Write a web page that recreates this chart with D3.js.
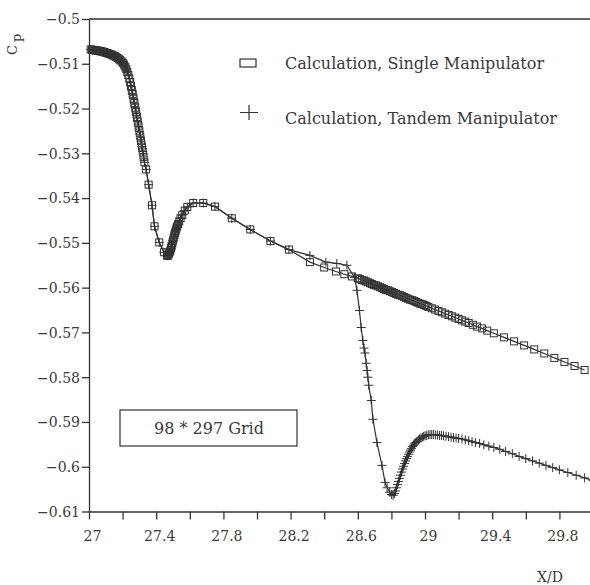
<!DOCTYPE html>
<html>
<head>
<meta charset="utf-8">
<script src="https://cdn.jsdelivr.net/npm/d3@7"></script>
<style>
  body { margin: 0; background: #fff; }
  svg { display: block; }
  text { font-family: "DejaVu Serif", serif; fill: #3a3a3a; }
</style>
</head>
<body>
<svg width="590" height="585"></svg>
<script>
// x/D, Cp  -- single manipulator calculation
var singlePts = [
  [27.010,-0.5068],[27.018,-0.5069],[27.026,-0.5069],[27.034,-0.5070],[27.042,-0.5070],
  [27.050,-0.5071],[27.058,-0.5071],[27.066,-0.5072],[27.074,-0.5072],[27.082,-0.5073],
  [27.090,-0.5074],[27.098,-0.5075],[27.106,-0.5076],[27.114,-0.5077],[27.122,-0.5078],
  [27.130,-0.5079],[27.138,-0.5080],[27.146,-0.5082],[27.154,-0.5083],[27.162,-0.5085],
  [27.170,-0.5087],[27.178,-0.5089],[27.186,-0.5092],[27.194,-0.5095],[27.202,-0.5098],
  [27.209,-0.5102],[27.216,-0.5107],[27.222,-0.5112],[27.228,-0.5118],[27.234,-0.5125],
  [27.240,-0.5133],[27.245,-0.5141],[27.250,-0.5150],[27.255,-0.5159],[27.260,-0.5168],
  [27.265,-0.5178],[27.270,-0.5188],[27.275,-0.5198],[27.280,-0.5208],[27.285,-0.5219],
  [27.290,-0.5229],[27.295,-0.5240],[27.300,-0.5251],[27.305,-0.5262],[27.310,-0.5273],
  [27.315,-0.5285],[27.320,-0.5296],[27.325,-0.5308],[27.330,-0.5320],[27.340,-0.5336],
  [27.355,-0.5370],[27.375,-0.5416],[27.390,-0.5463],[27.418,-0.5499],[27.446,-0.5521],
  [27.464,-0.5528],[27.468,-0.5529],[27.472,-0.5527],[27.476,-0.5524],[27.480,-0.5521],
  [27.484,-0.5517],[27.488,-0.5512],[27.492,-0.5507],[27.496,-0.5501],[27.500,-0.5495],
  [27.504,-0.5489],[27.508,-0.5483],[27.512,-0.5478],[27.516,-0.5473],[27.520,-0.5468],
  [27.525,-0.5463],[27.530,-0.5458],[27.537,-0.5452],[27.545,-0.5445],[27.555,-0.5438],
  [27.570,-0.5428],[27.585,-0.5420],[27.620,-0.5411],[27.680,-0.5411],[27.750,-0.5419],
  [27.850,-0.5445],[27.960,-0.5470],[28.080,-0.5496],[28.190,-0.5515],[28.315,-0.5543],
  [28.400,-0.5555],[28.470,-0.5564],[28.520,-0.5570],[28.565,-0.5575],[28.600,-0.5579],
  [28.612,-0.5581],[28.624,-0.5583],[28.636,-0.5584],[28.648,-0.5586],[28.660,-0.5588],
  [28.672,-0.5590],[28.684,-0.5592],[28.696,-0.5594],[28.708,-0.5595],[28.720,-0.5597],
  [28.732,-0.5599],[28.744,-0.5601],[28.756,-0.5603],[28.768,-0.5605],[28.780,-0.5606],
  [28.792,-0.5608],[28.804,-0.5610],[28.816,-0.5612],[28.828,-0.5614],[28.840,-0.5616],
  [28.852,-0.5617],[28.864,-0.5619],[28.876,-0.5621],[28.888,-0.5623],[28.900,-0.5625],
  [28.912,-0.5627],[28.924,-0.5628],[28.936,-0.5630],[28.948,-0.5632],[28.960,-0.5634],
  [28.972,-0.5636],[28.984,-0.5637],[28.996,-0.5639],[29.008,-0.5641],[29.020,-0.5643],
  [29.040,-0.5646],[29.060,-0.5649],[29.080,-0.5652],[29.100,-0.5655],[29.120,-0.5658],
  [29.140,-0.5661],[29.160,-0.5664],[29.180,-0.5667],[29.200,-0.5670],[29.220,-0.5673],
  [29.240,-0.5676],[29.260,-0.5679],[29.285,-0.5683],[29.310,-0.5687],[29.340,-0.5691],
  [29.370,-0.5696],[29.410,-0.5702],[29.470,-0.5711],[29.530,-0.5720],[29.590,-0.5729],
  [29.650,-0.5738],[29.710,-0.5747],[29.770,-0.5757],[29.830,-0.5766],[29.890,-0.5775],
  [29.950,-0.5784]
];

// tandem follows the single curve up to x/D = 28.19, then this
var tandemTail = [
  [28.315,-0.5528],[28.410,-0.5543],[28.475,-0.5546],[28.535,-0.5550],[28.580,-0.5577],
  [28.595,-0.5606],[28.610,-0.5651],[28.620,-0.5689],[28.630,-0.5718],[28.637,-0.5735],
  [28.643,-0.5746],[28.650,-0.5769],[28.655,-0.5785],[28.660,-0.5800],[28.665,-0.5818],
  [28.680,-0.5852],[28.690,-0.5894],[28.714,-0.5946],[28.744,-0.5997],[28.762,-0.6035],
  [28.775,-0.6047],[28.790,-0.6057],[28.800,-0.6062],[28.810,-0.6064],[28.818,-0.6060],
  [28.824,-0.6054],[28.830,-0.6047],[28.836,-0.6040],[28.842,-0.6033],[28.848,-0.6026],
  [28.854,-0.6019],[28.860,-0.6012],[28.866,-0.6005],[28.872,-0.5999],[28.878,-0.5993],
  [28.884,-0.5987],[28.890,-0.5982],[28.896,-0.5977],[28.902,-0.5972],[28.908,-0.5967],
  [28.914,-0.5963],[28.920,-0.5959],[28.926,-0.5955],[28.932,-0.5952],[28.938,-0.5949],
  [28.945,-0.5946],[28.952,-0.5943],[28.960,-0.5940],[28.968,-0.5938],[28.976,-0.5936],
  [28.984,-0.5934],[28.992,-0.5932],[29.000,-0.5931],[29.010,-0.5930],[29.020,-0.5929],
  [29.030,-0.5928],[29.040,-0.5928],[29.050,-0.5928],[29.062,-0.5929],[29.074,-0.5929],
  [29.086,-0.5930],[29.098,-0.5930],[29.110,-0.5931],[29.125,-0.5932],[29.140,-0.5933],
  [29.155,-0.5934],[29.170,-0.5935],[29.185,-0.5936],[29.200,-0.5937],[29.220,-0.5938],
  [29.240,-0.5940],[29.260,-0.5942],[29.280,-0.5944],[29.300,-0.5946],[29.325,-0.5948],
  [29.350,-0.5951],[29.380,-0.5954],[29.410,-0.5957],[29.445,-0.5961],[29.480,-0.5966],
  [29.520,-0.5971],[29.560,-0.5977],[29.600,-0.5982],[29.640,-0.5987],[29.680,-0.5992],
  [29.720,-0.5997],[29.760,-0.6002],[29.800,-0.6007],[29.850,-0.6013],[29.900,-0.6019],
  [29.950,-0.6025],[30.000,-0.6031]
];
var tandemPts = singlePts.filter(function (p) { return p[0] <= 28.2; }).concat(tandemTail);

var xTicks = [27, 27.2, 27.4, 27.6, 27.8, 28, 28.2, 28.4, 28.6, 28.8, 29, 29.2, 29.4, 29.6, 29.8];
var xLabels = ["27", "27.4", "27.8", "28.2", "28.6", "29", "29.4", "29.8"];
var yTicks = [-0.5, -0.51, -0.52, -0.53, -0.54, -0.55, -0.56, -0.57, -0.58, -0.59, -0.6, -0.61];

var svg = d3.select("svg");
var ink = "#333";

var x = d3.scaleLinear().domain([27, 30]).range([89, 593]);
var y = d3.scaleLinear().domain([-0.5, -0.61]).range([19, 511.5]);

// axes
var xAxis = d3.axisBottom(x)
  .tickValues(xTicks)
  .tickSize(8)
  .tickSizeOuter(0)
  .tickPadding(12)
  .tickFormat(function (d) {
    var s = d3.format("")(+d.toFixed(1));
    return xLabels.indexOf(s) >= 0 ? s : "";
  });

var yAxis = d3.axisLeft(y)
  .tickValues(yTicks)
  .tickSize(7)
  .tickSizeOuter(0)
  .tickPadding(2)
  .tickFormat(function (d) { return "\u2212" + d3.format("")(+Math.abs(d).toFixed(2)); });

var gx = svg.append("g")
  .attr("transform", "translate(0," + y(-0.61) + ")")
  .call(xAxis);
gx.selectAll("text").style("font-size", "14px").attr("dx", 3);

var gy = svg.append("g")
  .attr("transform", "translate(" + x(27) + ",0)")
  .call(yAxis);
gy.selectAll("text").style("font-size", "14px").attr("dy", "0.35em");

svg.selectAll(".domain, .tick line").attr("stroke", ink).attr("stroke-width", 1.3);
svg.selectAll(".tick text").attr("fill", "#3a3a3a");

svg.append("line")
  .attr("x1", x(27)).attr("x2", x(30))
  .attr("y1", y(-0.5)).attr("y2", y(-0.5))
  .attr("stroke", ink).attr("stroke-width", 1.3);

// axis titles
var cp = svg.append("text")
  .attr("transform", "translate(17,55) rotate(-90)")
  .style("font-size", "13px");
cp.append("tspan").text("C");
cp.append("tspan").attr("dx", 3).attr("dy", 4).text("p");

svg.append("text")
  .attr("x", 550).attr("y", 582)
  .attr("text-anchor", "middle")
  .style("font-size", "14px")
  .text("X/D");

// curves
var line = d3.line()
  .x(function (d) { return x(d[0]); })
  .y(function (d) { return y(d[1]); });

svg.append("path").datum(singlePts)
  .attr("d", line).attr("fill", "none")
  .attr("stroke", ink).attr("stroke-width", 1.2);

svg.append("path").datum(tandemPts)
  .attr("d", line).attr("fill", "none")
  .attr("stroke", ink).attr("stroke-width", 1.2);

svg.append("g").selectAll("rect")
  .data(singlePts)
  .enter()
  .append("rect")
  .attr("x", function (d) { return x(d[0]) - 3.5; })
  .attr("y", function (d) { return y(d[1]) - 3.5; })
  .attr("width", 7).attr("height", 7)
  .attr("fill", "none").attr("stroke", ink).attr("stroke-width", 1);

svg.append("g").selectAll("path")
  .data(tandemPts)
  .enter()
  .append("path")
  .attr("transform", function (d) { return "translate(" + x(d[0]) + "," + y(d[1]) + ")"; })
  .attr("d", "M-4.5,0H4.5M0,-4.5V4.5")
  .attr("fill", "none").attr("stroke", ink).attr("stroke-width", 1);

// legend
svg.append("rect")
  .attr("x", 240).attr("y", 59).attr("width", 16).attr("height", 8)
  .attr("fill", "none").attr("stroke", ink).attr("stroke-width", 1.2);
svg.append("path")
  .attr("d", "M240,112.5H258M249,105V120")
  .attr("fill", "none").attr("stroke", ink).attr("stroke-width", 1.2);
svg.append("text").attr("x", 285).attr("y", 69).style("font-size", "16px")
  .text("Calculation, Single Manipulator");
svg.append("text").attr("x", 285).attr("y", 124).style("font-size", "16px")
  .text("Calculation, Tandem Manipulator");

// grid note
svg.append("rect")
  .attr("x", 120).attr("y", 410).attr("width", 177).attr("height", 36)
  .attr("fill", "none").attr("stroke", ink).attr("stroke-width", 1.2);
svg.append("text")
  .attr("x", 209).attr("y", 434).attr("text-anchor", "middle")
  .style("font-size", "16px")
  .text("98 * 297 Grid");
</script>
</body>
</html>
